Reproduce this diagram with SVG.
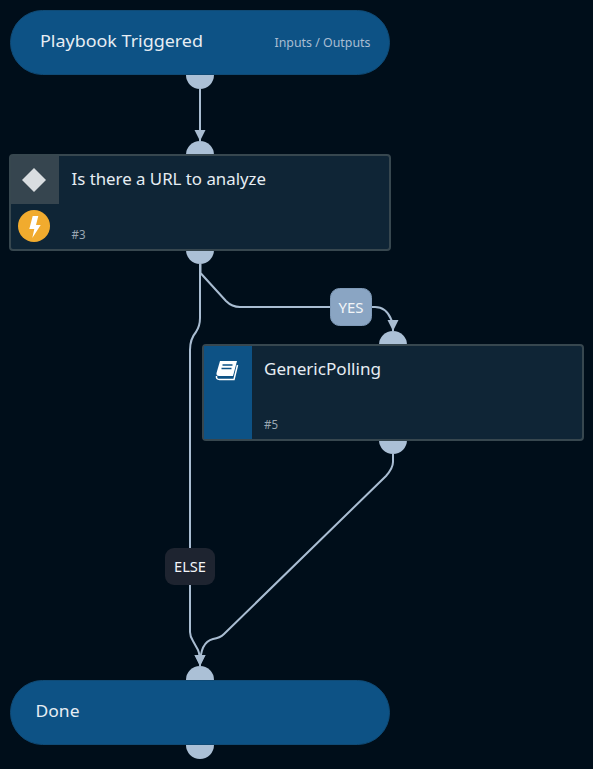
<svg xmlns="http://www.w3.org/2000/svg" width="593" height="769" viewBox="0 0 593 769">
<defs>
<style>
text{font-family:"Noto Sans","Open Sans","Liberation Sans",sans-serif}
.port{fill:#abc0d6}
.pill{fill:#0d5285;stroke:#0f4a75;stroke-width:1}
.card{fill:#0f2536;stroke:#37474f;stroke-width:2}
.edge{fill:none;stroke:#a9bdd2;stroke-width:2}
.title{font-size:17px;fill:#e6edf3}
.num{font-size:12px;fill:#9aa7b2}
.lbl{font-size:14px;text-anchor:middle}
</style>
<marker id="arrow" markerUnits="userSpaceOnUse" markerWidth="12" markerHeight="12" refX="11" refY="5.500" orient="90">
<path d="M0 0L11 5.500L0 11Z" fill="#a9bdd2"/>
</marker>
</defs>
<rect width="593" height="769" fill="#000e1a"/>
<g id="connectors">
<path class="edge" marker-end="url(#arrow)" d="M200 89V141"/>
<path class="edge" d="M200.500 264V273L226 301Q232 307 240 307H330"/>
<path class="edge" marker-end="url(#arrow)" d="M372 307H375Q386 307 391 319Q393 323 393 331"/>
<path class="edge" d="M200 264V318Q200 326 196 332Q190 339 190 350V548"/>
<path class="edge" marker-end="url(#arrow)" d="M190 585V632Q190 636 193 641L198 650Q200 654 200 666"/>
<path class="edge" marker-end="url(#arrow)" d="M393 454V462Q393 468 386 476L224 634Q220 638 213 639Q200 642 200 666"/>
</g>
<g id="node-trigger">
<circle class="port" cx="200" cy="75" r="14"/>
<rect class="pill" x="10.500" y="10.500" width="379" height="64" rx="32" ry="32"/>
<text class="title" x="40" y="47" textLength="163" lengthAdjust="spacingAndGlyphs">Playbook Triggered</text>
<text x="274.500" y="47" font-size="13" fill="#a9bdd2" textLength="96" lengthAdjust="spacingAndGlyphs">Inputs / Outputs</text>
</g>
<g id="node-3">
<circle class="port" cx="200" cy="155" r="14"/>
<circle class="port" cx="200" cy="250" r="14"/>
<rect class="card" x="10" y="155" width="380" height="95" rx="3"/>
<rect x="11" y="156" width="48" height="48" fill="#36454f"/>
<path d="M34 168L46 180L34 192L22 180Z" fill="#d9dde0"/>
<circle cx="34" cy="226" r="16" fill="#f1ab2e"/>
<path d="M32.700 216H38.300L36 225H40.700L32.300 238L34.300 229H29.300Z" fill="#fff"/>
<text class="title" x="71.500" y="185" textLength="194.500" lengthAdjust="spacingAndGlyphs">Is there a URL to analyze</text>
<text class="num" x="71.500" y="239" textLength="14" lengthAdjust="spacingAndGlyphs">#3</text>
</g>
<g id="node-5">
<circle class="port" cx="393" cy="345" r="14"/>
<circle class="port" cx="393" cy="440" r="14"/>
<rect class="card" x="203" y="345" width="380" height="95" rx="3"/>
<path d="M204 346H252V439H204Z" fill="#0d5285"/>
<path d="M220 361H237L233 376H219Q216 376 216.500 373Z" fill="#fff"/>
<path d="M237.500 365L234 379.500H219.500Q216 379.500 216.500 376" fill="none" stroke="#fff" stroke-width="1.500"/>
<path d="M222.500 365H232.500M221.500 368.500H231.500" stroke="#0d5285" stroke-width="1.500"/>
<text class="title" x="264" y="375" textLength="117" lengthAdjust="spacingAndGlyphs">GenericPolling</text>
<text class="num" x="264" y="429" textLength="14" lengthAdjust="spacingAndGlyphs">#5</text>
</g>
<g id="label-yes">
<rect x="330.500" y="288.500" width="41" height="37" rx="9" fill="#8aa5c3" stroke="#7f9ab8"/>
<text class="lbl" x="351" y="313" fill="#f2f5f8" textLength="25" lengthAdjust="spacingAndGlyphs">YES</text>
</g>
<g id="label-else">
<rect x="165" y="548" width="50" height="37" rx="9" fill="#1e2430"/>
<text class="lbl" x="190" y="572" fill="#f2f5f8" textLength="32" lengthAdjust="spacingAndGlyphs">ELSE</text>
</g>
<g id="node-done">
<circle class="port" cx="200" cy="680" r="14"/>
<circle class="port" cx="200" cy="745" r="14"/>
<rect class="pill" x="10.500" y="680.500" width="379" height="64" rx="32" ry="32"/>
<text class="title" x="35.500" y="717" textLength="44" lengthAdjust="spacingAndGlyphs">Done</text>
</g>
</svg>
